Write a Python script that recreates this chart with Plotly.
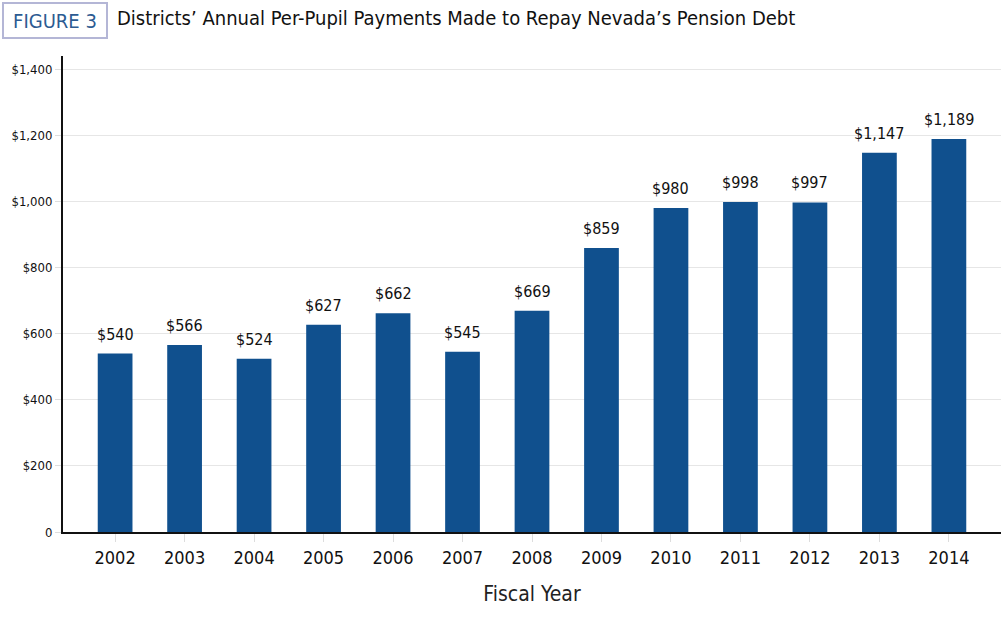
import plotly.graph_objects as go

years = ["2002", "2003", "2004", "2005", "2006", "2007", "2008",
         "2009", "2010", "2011", "2012", "2013", "2014"]
payments = [540, 566, 524, 627, 662, 545, 669, 859, 980, 998, 997, 1147, 1189]
y_tick_vals = [0, 200, 400, 600, 800, 1000, 1200, 1400]
y_tick_text = ["0", "$200", "$400", "$600", "$800", "$1,000", "$1,200", "$1,400"]

FONT = "DejaVu Sans Condensed, Liberation Sans Narrow, sans-serif"
BAR = "#10508E"

W, H = 1001, 629
ML, MR, MT, MB = 63, 0, 56, 97
PW, PH = W - ML - MR, H - MT - MB

def px_x(x):
    return (x - ML) / PW

def px_y(y):
    return 1 + (MT - y) / PH

fig = go.Figure()
fig.add_trace(go.Bar(
    x=list(range(len(years))), y=payments,
    marker=dict(color=BAR, line=dict(width=0)),
    width=0.5, hoverinfo="skip",
))

for i, v in enumerate(payments):
    fig.add_annotation(x=i, y=v, text=f"${v:,}", showarrow=False,
                       yanchor="bottom", yshift=8,
                       font=dict(family=FONT, size=16, color="#111111"))

fig.add_annotation(xref="paper", yref="paper",
                   x=px_x(2), y=px_y(2),
                   xanchor="left", yanchor="top", showarrow=False,
                   text="FIGURE 3",
                   font=dict(family=FONT, size=20, color="#2C5B92"),
                   bordercolor="#B4B6D6", borderwidth=2, borderpad=2,
                   bgcolor="white", width=98, height=29)
fig.add_annotation(xref="paper", yref="paper",
                   x=px_x(115), y=px_y(18),
                   xanchor="left", yanchor="middle", showarrow=False,
                   text="Districts\u2019 Annual Per-Pupil Payments Made to Repay Nevada\u2019s Pension Debt",
                   font=dict(family=FONT, size=20, color="#111111"))

fig.update_layout(
    width=W, height=H,
    margin=dict(l=ML, r=MR, t=MT, b=MB, autoexpand=False),
    paper_bgcolor="white", plot_bgcolor="white",
    showlegend=False,
    font=dict(family=FONT),
    xaxis=dict(
        range=[-0.75, 12.75],
        tickvals=list(range(len(years))), ticktext=years,
        tickfont=dict(family=FONT, size=18, color="#111111"),
        showline=True, linecolor="#111111", linewidth=2,
        ticks="outside", ticklen=8, tickcolor="#dddddd", tickwidth=1,
        showgrid=False, zeroline=False, automargin=False,
        title=dict(text="Fiscal Year", font=dict(family=FONT, size=21, color="#222222"), standoff=20),
        fixedrange=True,
    ),
    yaxis=dict(
        range=[0, 1440],
        tickvals=y_tick_vals, ticktext=y_tick_text,
        tickfont=dict(family=FONT, size=13, color="#111111"),
        showline=True, linecolor="#111111", linewidth=2,
        ticks="outside", ticklen=6, tickcolor="#dddddd", tickwidth=1,
        showgrid=True, gridcolor="#e6e6e6", gridwidth=1,
        zeroline=False, automargin=False, fixedrange=True,
    ),
)

fig.write_html("out.html",
               config={"displayModeBar": False, "staticPlot": True},
               post_script="document.body.style.margin='0';document.body.style.overflow='hidden';")
